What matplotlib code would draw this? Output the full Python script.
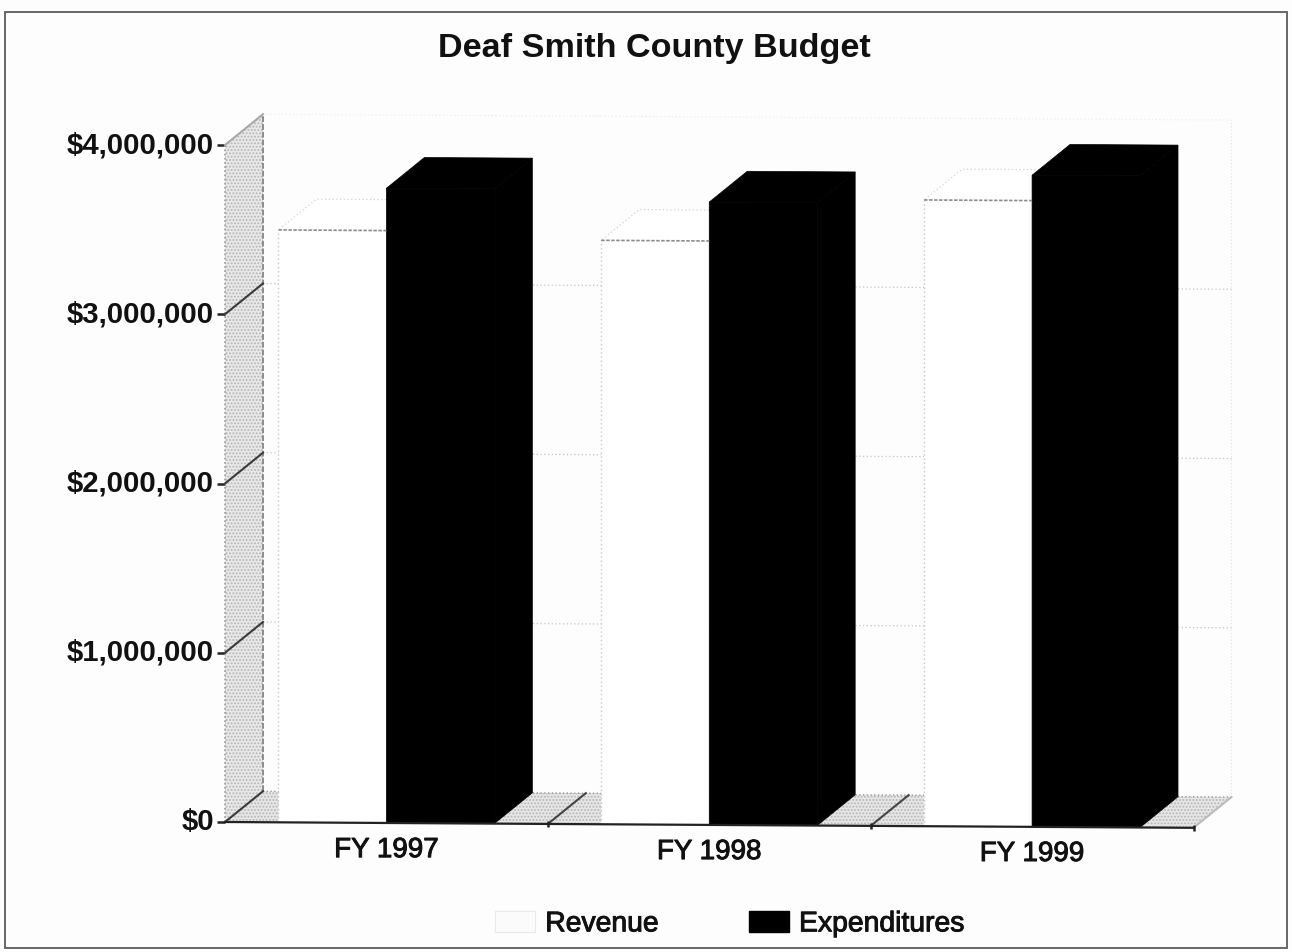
import matplotlib
matplotlib.use("Agg")
import matplotlib.pyplot as plt
import matplotlib.patheffects as pe
from matplotlib.patches import Polygon, Patch, Rectangle
from matplotlib.transforms import Affine2D, ScaledTranslation
from matplotlib.ticker import FuncFormatter

plt.rcParams['font.family'] = ['Liberation Sans', 'DejaVu Sans']
plt.rcParams['hatch.linewidth'] = 0.9

title = "Deaf Smith County Budget"
years = ["FY 1997", "FY 1998", "FY 1999"]
revenue = [3500000, 3450000, 3700000]
expenditures = [3750000, 3680000, 3850000]
y_ticks = [0, 1000000, 2000000, 3000000, 4000000]
series_names = ["Revenue", "Expenditures"]

W, H = 1292, 952
PAPER = '#fdfdfd'
INK = '#111111'
fig = plt.figure(figsize=(W / 100, H / 100), dpi=100, facecolor=PAPER)
L, R, B, T = 225, 1193.5, 822, 145
ax = fig.add_axes([L / W, (H - B) / H, (R - L) / W, (B - T) / H])
ax.set_xlim(-0.5, 2.5)
ax.set_ylim(0, 4000000)
ax.patch.set_alpha(0)
for s in ax.spines.values():
    s.set_visible(False)

# the scanned page is turned slightly: everything drifts down to the right
slope = 0.006
tilt_only = Affine2D.from_values(1, -slope, 0, 1, 0, slope * L)
tilt = ax.transData + tilt_only

# the print has spread: text is a little heavier than the font
thick = [pe.withStroke(linewidth=0.7, foreground=INK)]

# depth of the pseudo-3D view, in data units
dx = 38 / 323
dy = 31 / 677 * 4000000
x0, x1 = -0.5, 2.5
ymax = y_ticks[-1]
width = 108 / 323


def poly(points, **kw):
    kw.setdefault('clip_on', False)
    p = Polygon(points, closed=True, transform=tilt, **kw)
    ax.add_patch(p)
    return p


# left wall
poly([(x0, 0), (x0 + dx, dy), (x0 + dx, ymax + dy), (x0, ymax)],
     facecolor='#e8e8e8', edgecolor='#b5b5b5', hatch='.....', lw=0, zorder=1)
# floor
poly([(x0, 0), (x1, 0), (x1 + dx, dy), (x0 + dx, dy)],
     facecolor='#e6e6e6', edgecolor='#b5b5b5', hatch='.....', lw=0, zorder=1)
# wall edges
ax.plot([x0, x0], [0, ymax], color='#9a9a9a', lw=1.2, ls=(0, (1, 1.5)), transform=tilt, clip_on=False, zorder=2)
ax.plot([x0 + dx, x0 + dx], [dy, ymax + dy], color='#8c8c8c', lw=1.4, ls=(0, (3, 1)), transform=tilt, clip_on=False, zorder=2)
ax.plot([x1 + dx, x1 + dx], [dy, ymax + dy], color='#e2e2e2', lw=0.8, ls=(0, (1, 2)), transform=tilt, clip_on=False, zorder=2)
# gridlines: back wall dotted, side wall solid
for v in y_ticks:
    if v == 0:
        back = '#8a8a8a'
    elif v == ymax:
        back = '#ececec'
    else:
        back = '#c4c4c4'
    ax.plot([x0 + dx, x1 + dx], [v + dy, v + dy], color=back, lw=0.9, ls=(0, (1, 2)),
            transform=tilt, clip_on=False, zorder=2)
    side = '#3a3a3a' if v < ymax else '#a8a8a8'
    ax.plot([x0, x0 + dx], [v, v + dy], color=side, lw=1.5, transform=tilt, clip_on=False, zorder=2)
# floor dividers between the categories
for c in [0.5, 1.5, x1]:
    ax.plot([c, c + dx], [0, dy], color='#444444' if c < x1 else '#bbbbbb', lw=1.5,
            transform=tilt, clip_on=False, zorder=2)

# bars with their depth
for i, year in enumerate(years):
    rev, exp = revenue[i], expenditures[i]
    a, b, c = i - width, i, i + width
    poly([(a, rev), (b, rev), (b + dx, rev + dy), (a + dx, rev + dy)],
         facecolor='#ffffff', edgecolor='#d4d4d4', lw=0.9, ls=(0, (1, 2)), zorder=3)
    poly([(b, 0), (b + dx, dy), (b + dx, rev + dy), (b, rev)],
         facecolor='#ffffff', edgecolor='none', zorder=3)
    poly([(b, exp), (c, exp), (c + dx, exp + dy), (b + dx, exp + dy)],
         facecolor='#000000', edgecolor='#000000', lw=0.5, zorder=5)
    poly([(c, 0), (c + dx, dy), (c + dx, exp + dy), (c, exp)],
         facecolor='#000000', edgecolor='#000000', lw=0.5, zorder=5)

ax.bar([i - width / 2 for i in range(3)], revenue, width=width, color='#ffffff',
       edgecolor='none', transform=tilt, zorder=4, clip_on=False, label=series_names[0])
ax.bar([i + width / 2 for i in range(3)], expenditures, width=width, color='#000000',
       edgecolor='#000000', lw=0.5, transform=tilt, zorder=6, clip_on=False, label=series_names[1])

# dotted outlines of the white bars
for i, rev in enumerate(revenue):
    a, b = i - width, i
    ax.plot([a, a], [0, rev], color='#c8c8c8', lw=1.0, ls=(0, (1, 2)), transform=tilt, zorder=6, clip_on=False)
    ax.plot([a, b], [rev, rev], color='#8a8a8a', lw=1.2, ls=(0, (2, 1)), transform=tilt, zorder=6, clip_on=False)

# front axis line and ticks
ax.plot([x0, x1], [0, 0], color='#222222', lw=1.6, transform=tilt, clip_on=False, zorder=7)
ax.plot([0.5, 1.5, x1], [0, 0, 0], ls='none', marker='|', ms=5, mew=1.8, color='#222222',
        transform=tilt, clip_on=False, zorder=7)

ax.set_yticks(y_ticks)
ax.yaxis.set_major_formatter(FuncFormatter(lambda v, _: f"${v:,.0f}"))
ax.tick_params(axis='y', length=6, width=1.8, color='#222222', pad=2, labelsize=21.2)
up = ScaledTranslation(0, 3 / 100, fig.dpi_scale_trans)
for i, lab in enumerate(ax.get_yticklabels()):
    lab.set_fontweight('bold')
    lab.set_color(INK)
    lab.set_transform(lab.get_transform() + up)

ax.set_xticks(range(len(years)))
ax.set_xticklabels(years, fontsize=20, color=INK, path_effects=thick)
ax.tick_params(axis='x', length=0, pad=10.2)
for lab in ax.get_xticklabels():
    lab.set_transform(lab.get_transform() + tilt_only)

fig.text(654 / W, (H - 49) / H, title, ha='center', va='center',
         fontsize=24.6, fontweight='bold', color=INK)

handles = [Patch(facecolor='#fbfbfb', edgecolor='#e9e9e9', lw=0.8, label=series_names[0]),
           Patch(facecolor='#000000', edgecolor='#000000', label=series_names[1])]
leg = fig.legend(handles=handles, ncol=2, frameon=False, fontsize=20.4, loc='center',
                 bbox_to_anchor=(730 / W, (H - 924) / H), handlelength=1.42, handleheight=0.8,
                 handletextpad=0.35, columnspacing=3.16, borderpad=0, borderaxespad=0, labelcolor=INK)
for t in leg.get_texts():
    t.set_path_effects(thick)

# scanned frame
fig.add_artist(Rectangle((5 / W, (H - 948) / H), 1282 / W, 936 / H, transform=fig.transFigure,
                         fill=False, edgecolor='#666666', lw=1.4))

fig.savefig("out.png", dpi=100, facecolor=PAPER)
